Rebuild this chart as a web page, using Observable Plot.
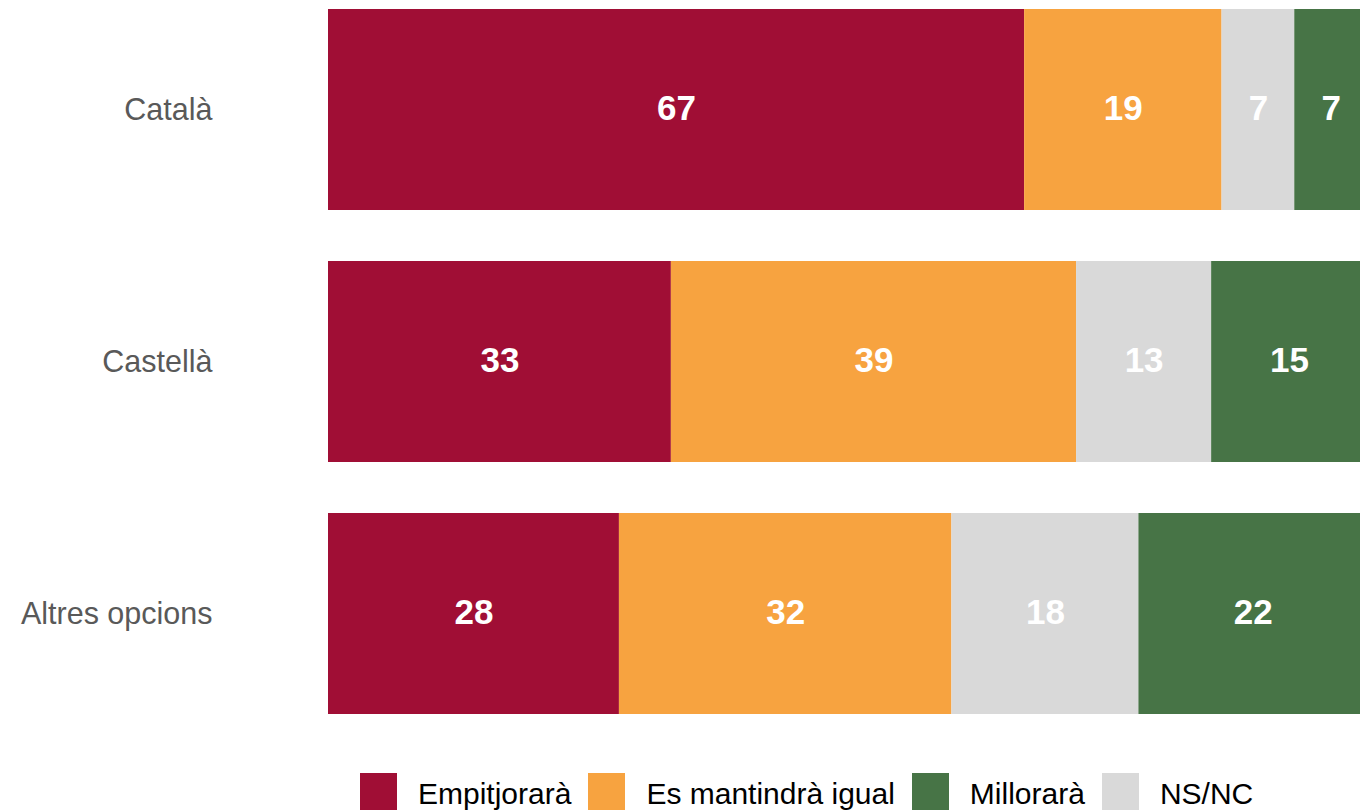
<!DOCTYPE html>
<html><head><meta charset="utf-8">
<script src="https://cdn.jsdelivr.net/npm/d3@7"></script>
<script src="https://cdn.jsdelivr.net/npm/@observablehq/plot@0.6"></script>
<style>
html,body{margin:0;padding:0;background:#fff;overflow:hidden;width:1360px;height:810px;}
#chart{position:relative;width:1360px;height:810px;font-family:"Liberation Sans",Arial,sans-serif;}
#legend{position:absolute;left:360px;top:773px;display:flex;align-items:center;height:37px;}
.item{display:flex;align-items:center;margin-right:17px;}
.sw{width:37px;height:37px;margin-right:21px;}
.lab{font-size:30px;color:#000;white-space:nowrap;position:relative;top:2px;}
</style>
</head><body>
<div id="chart"><div id="legend"></div></div>
<script>
const categories = ["Català", "Castellà", "Altres opcions"];
const series = ["Empitjorarà", "Es mantindrà igual", "NS/NC", "Millorarà"];
const empitjorara = [67, 33, 28];
const mantindra = [19, 39, 32];
const nsnc = [7, 13, 18];
const millorara = [7, 15, 22];
const legendOrder = ["Empitjorarà", "Es mantindrà igual", "Millorarà", "NS/NC"];
const colors = ["#A00E35", "#F7A340", "#D9D9D9", "#477446"];

const seriesValues = [empitjorara, mantindra, nsnc, millorara];
const rows = [];
categories.forEach((c, i) => {
  series.forEach((s, j) => rows.push({category: c, series: s, value: seriesValues[j][i]}));
});

const plot = Plot.plot({
  width: 1360,
  height: 740,
  marginLeft: 328,
  marginRight: 0,
  marginTop: 8,
  marginBottom: 26,
  style: {fontFamily: "'Liberation Sans', Arial, sans-serif", background: "#fff"},
  x: {domain: [0, 100], range: [328, 1367], axis: null},
  y: {domain: categories, range: [8, 714], paddingInner: 0.204, paddingOuter: 0, label: null},
  color: {domain: series, range: colors},
  marks: [
    Plot.barX(rows, Plot.stackX({x: "value", y: "category", fill: "series", order: series})),
    Plot.textX(rows, Plot.stackX({x: "value", y: "category", z: "series", order: series,
      text: d => d.value, fill: "white", fontWeight: "bold", fontSize: 35, dy: -1})),
    Plot.axisY({tickSize: 0, tickPadding: 116, fontSize: 30.5, color: "#595959", label: null})
  ]
});
document.getElementById("chart").prepend(plot);

const legend = document.getElementById("legend");
legendOrder.forEach(s => {
  const it = document.createElement("div");
  it.className = "item";
  const sw = document.createElement("div");
  sw.className = "sw";
  sw.style.background = colors[series.indexOf(s)];
  const lab = document.createElement("span");
  lab.className = "lab";
  lab.textContent = s;
  it.append(sw, lab);
  legend.append(it);
});
</script>
</body></html>
